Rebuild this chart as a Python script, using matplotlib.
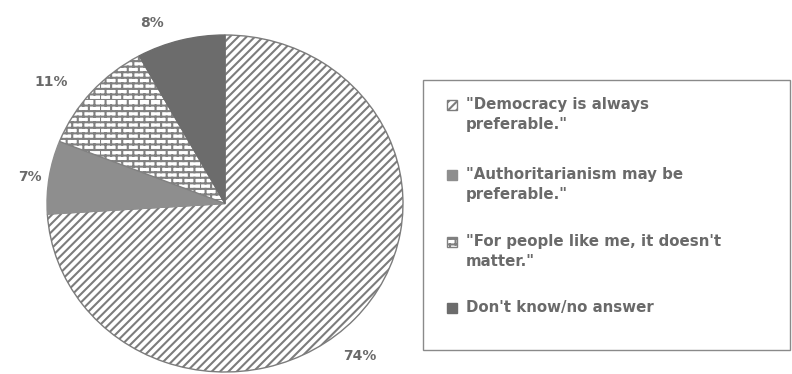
import numpy as np
import matplotlib
matplotlib.use("Agg")
import matplotlib.pyplot as plt
import matplotlib.hatch as mhatch
from matplotlib.path import Path
from matplotlib.patches import Rectangle
import warnings
warnings.filterwarnings("ignore")

# ---- data ----
categories = ['"Democracy is always\npreferable."',
              '"Authoritarianism may be\npreferable."',
              '"For people like me, it doesn\'t\nmatter."',
              "Don't know/no answer"]
values = [74, 7, 11, 8]
pct_labels = ["74%", "7%", "11%", "8%"]


# ---- custom brick hatch ----
class BrickHatch(mhatch.HatchPatternBase):
    def __init__(self, hatch, density):
        self.rows = hatch.count('b') * density
        if self.rows % 2:
            self.rows += 1
        R = self.rows
        self.num_vertices = (2 * R + R * R) if R else 0

    def set_vertices_and_codes(self, vertices, codes):
        R = self.rows
        idx = 0
        for i in range(R):
            y = i / R
            vertices[idx] = (0, y)
            vertices[idx + 1] = (1, y)
            codes[idx] = Path.MOVETO
            codes[idx + 1] = Path.LINETO
            idx += 2
        for i in range(R):
            y0, y1 = i / R, (i + 1) / R
            off = 0 if i % 2 == 0 else 1 / R
            for j in range(R // 2):
                x = off + j * 2 / R
                vertices[idx] = (x, y0)
                vertices[idx + 1] = (x, y1)
                codes[idx] = Path.MOVETO
                codes[idx + 1] = Path.LINETO
                idx += 2


mhatch._hatch_types.append(BrickHatch)

plt.rcParams['hatch.linewidth'] = 1.5

W, H = 792, 374
fig = plt.figure(figsize=(W / 100, H / 100), dpi=100)
ax = fig.add_axes([0, 0, 1, 1])

faces = ['white', '#acacac', 'white', '#6c6c6c']
edges = ['#7c7c7c', '#8e8e8e', '#808080', '#6c6c6c']
hatches = ['////', '---------', 'bbb', None]

wedges, _ = ax.pie(values, startangle=90, counterclock=False,
                   colors=faces, wedgeprops=dict(linewidth=1.0))
for w, ec, h in zip(wedges, edges, hatches):
    w.set_edgecolor(ec)
    if h:
        w.set_hatch(h)

# pixel mapping: pie spans x 47..403, y 35..372
sx, sy = 178.0, 168.5
xmin = -1 - 47 / sx
ymax = 1 + 35 / sy
ax.set_aspect('auto')
ax.set_xlim(xmin, xmin + W / sx)
ax.set_ylim(ymax - H / sy, ymax)
ax.axis('off')

# percentage labels (layout positions in pie units)
label_pos = [(0.758, -0.905), (-1.095, 0.158), (-0.978, 0.721), (-0.41, 1.071)]
for txt, (x, y) in zip(pct_labels, label_pos):
    ax.text(x, y, txt, ha='center', va='center', fontsize=10,
            fontweight='bold', color='#6a6a6a')

# legend box
def fx(px):
    return px / W


def fy(py):
    return 1 - py / H


box = Rectangle((fx(423), fy(350)), fx(790) - fx(423), fy(80) - fy(350),
                transform=fig.transFigure, fill=False, edgecolor='#8a8a8a',
                linewidth=1.0)
fig.add_artist(box)

row_y = [105, 175, 242, 308]
for lab, fc, ec, h, ry in zip(categories, faces, edges, hatches, row_y):
    r = Rectangle((fx(447), fy(ry + 5)), fx(10), 10 / H,
                  transform=fig.transFigure, facecolor=fc, edgecolor=ec,
                  hatch=h, linewidth=1.0)
    fig.add_artist(r)
    fig.text(fx(466), fy(ry - 8), lab, ha='left', va='top', fontsize=10.8,
             fontweight='bold', color='#6a6a6a', linespacing=1.45)

fig.savefig('out.png', dpi=100)
